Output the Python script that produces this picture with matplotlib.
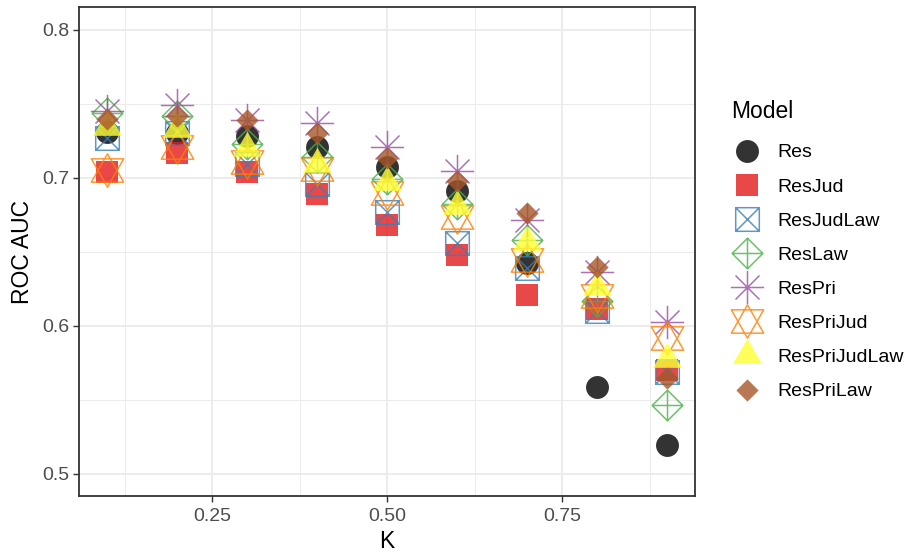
import matplotlib
matplotlib.use("Agg")
import matplotlib.pyplot as plt
from matplotlib.path import Path
from matplotlib.lines import Line2D

plt.rcParams['font.family'] = ['Liberation Sans', 'DejaVu Sans']

# datos
k = [0.1, 0.2, 0.3, 0.4, 0.5, 0.6, 0.7, 0.8, 0.9]
modelos = ["Res", "ResJud", "ResJudLaw", "ResLaw", "ResPri",
           "ResPriJud", "ResPriJudLaw", "ResPriLaw"]
res = [0.731, 0.7305, 0.728, 0.721, 0.7075, 0.691, 0.6427, 0.5584, 0.5195]
res_jud = [0.704, 0.717, 0.704, 0.689, 0.668, 0.648, 0.621, 0.611, 0.570]
res_jud_law = [0.727, 0.730, 0.709, 0.6955, 0.677, 0.656, 0.639, 0.610, 0.5686]
res_law = [0.744, 0.742, 0.7225, 0.714, 0.699, 0.682, 0.658, 0.617, 0.5465]
res_pri = [0.745, 0.749, 0.739, 0.737, 0.721, 0.7045, 0.6715, 0.636, 0.6027]
res_pri_jud = [0.705, 0.721, 0.7105, 0.706, 0.690, 0.6737, 0.6445, 0.620, 0.592]
res_pri_jud_law = [0.734, 0.733, 0.720, 0.709, 0.697, 0.681, 0.6564, 0.626, 0.5775]
res_pri_law = [0.740, 0.7415, 0.739, 0.730, 0.7135, 0.698, 0.6764, 0.640, 0.5645]
valores = [res, res_jud, res_jud_law, res_law, res_pri,
           res_pri_jud, res_pri_jud_law, res_pri_law]

# marcadores tipo ggplot
M, L, C = Path.MOVETO, Path.LINETO, Path.CLOSEPOLY
caja_x = Path([(-1, -1), (1, -1), (1, 1), (-1, 1), (-1, -1),
               (-1, -1), (1, 1), (-1, 1), (1, -1)],
              [M, L, L, L, C, M, L, M, L])
rombo_mas = Path([(0, 1), (1, 0), (0, -1), (-1, 0), (0, 1),
                  (0, 1), (0, -1), (-1, 0), (1, 0)],
                 [M, L, L, L, C, M, L, M, L])
d = 0.72
asterisco = Path([(-1, 0), (1, 0), (0, -1), (0, 1),
                  (-d, -d), (d, d), (-d, d), (d, -d)],
                 [M, L, M, L, M, L, M, L])
w, h = 0.97, 0.7
estrella = Path([(0, 1), (w, -h), (-w, -h), (0, 1),
                 (0, -1), (w, h), (-w, h), (0, -1)],
                [M, L, L, C, M, L, L, C])
triangulo = [(0, 1), (0.866, -0.5), (-0.866, -0.5)]
rombo = [(0, 1), (1, 0), (0, -1), (-1, 0)]

estilos = [
    dict(marker='o', ms=16.5, color='black', mew=0),
    dict(marker='s', ms=16.5, color='#E41A1C', mew=0),
    dict(marker=caja_x, ms=17, color='#377EB8', mfc='none', mew=1.1),
    dict(marker=rombo_mas, ms=22, color='#4DAF4A', mfc='none', mew=1.1),
    dict(marker=asterisco, ms=24, color='#984EA3', mfc='none', mew=1.1),
    dict(marker=estrella, ms=24, color='#FF7F00', mfc='none', mew=1.1),
    dict(marker=triangulo, ms=24, color='#FFFF33', mew=0),
    dict(marker=rombo, ms=16, color='#A65628', mew=0),
]

fig = plt.figure(figsize=(9.07, 5.54), dpi=100)
ax = fig.add_axes([0.0871, 0.1047, 0.6792, 0.8818])

handles = []
for nombre, ys, est in zip(modelos, valores, estilos):
    ax.plot(k, ys, linestyle='none', alpha=0.8, label=nombre, **est)
    handles.append(Line2D([], [], linestyle='none', alpha=0.8, **est))

ax.set_xlim(0.06, 0.94)
ax.set_ylim(0.485, 0.815)
ax.set_xticks([0.25, 0.50, 0.75])
ax.set_xticklabels(["0.25", "0.50", "0.75"])
ax.set_yticks([0.5, 0.6, 0.7, 0.8])
ax.set_yticklabels(["0.5", "0.6", "0.7", "0.8"])
ax.set_xticks([0.125, 0.375, 0.625, 0.875], minor=True)
ax.set_yticks([0.55, 0.65, 0.75], minor=True)
ax.grid(True, which='major', color='#EBEBEB', linewidth=1.3)
ax.grid(True, which='minor', color='#EBEBEB', linewidth=0.7)
ax.set_axisbelow(True)
ax.tick_params(which='major', length=4, width=1, color='#333333',
               labelsize=14, labelcolor='#4D4D4D', pad=3)
ax.tick_params(axis='x', which='major', pad=5)
ax.tick_params(which='minor', length=0)
for s in ax.spines.values():
    s.set_color('#333333')
    s.set_linewidth(1.3)

ax.set_xlabel("K", fontsize=16.5, labelpad=3)
ax.set_ylabel("ROC AUC", fontsize=16.5, labelpad=6)

leg = fig.legend(handles, modelos, loc='upper left',
                 bbox_to_anchor=(731 / 907, 1 - 100 / 554),
                 frameon=False, title="Model", fontsize=14,
                 title_fontsize=16.5, handlelength=1.65,
                 handletextpad=0.72, labelspacing=0.85, borderpad=0,
                 borderaxespad=0)
leg._legend_box.align = "left"
leg._legend_box.sep = 15  # mas aire bajo el titulo

fig.savefig("out.png", dpi=100)
